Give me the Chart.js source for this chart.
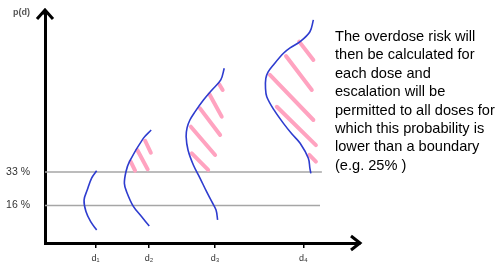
<!DOCTYPE html>
<html>
<head>
<meta charset="utf-8">
<title>Overdose risk</title>
<script src="https://cdn.jsdelivr.net/npm/chart.js"></script>
<style>
	html, body { margin: 0; padding: 0; background: #fff; }
	#wrap { position: relative; width: 500px; height: 269px; }
	#ylab { position: absolute; left: 13px; top: 8px; font: bold 9px/9px "Liberation Sans", Arial, sans-serif; color: #555; }
	#note { position: absolute; left: 335px; top: 27px; font: 14.6px/18.4px "Liberation Sans", Arial, sans-serif; color: #000; white-space: nowrap; }
</style>
</head>
<body>
<div id="wrap">
	<canvas id="mycanvas" width="500" height="269"></canvas>
	<div id="ylab">p(d)</div>
	<div id="note">The overdose risk will<br>then be calculated for<br>each dose and<br>escalation will be<br>permitted to all doses for<br>which this probability is<br>lower than a boundary<br>(e.g. 25% )</div>
</div>
<script>
// doses on the x axis
var doseLabels = ['d₁', 'd₂', 'd₃', 'd₄'];
var dosePos = [16, 33, 54, 82];

// boundaries (%) and how far they run along x
var boundaryLevels = [33, 16];
var boundaryEnd = [87.9, 87.3];

// posterior curves, [x, p(d)]
var curveD1 = [[16.4, 33.6], [14.8, 29.9], [13.4, 23.8], [12.4, 18.8], [13.0, 12.9], [14.5, 7.8], [16.4, 3.6]];
var curveD2 = [[33.7, 54.2], [31.2, 50.0], [26.8, 38.2], [25.7, 33.1], [25.2, 27.2], [25.9, 23.0], [28.0, 15.7], [30.7, 10.3], [33.1, 5.6]];
var curveD3 = [[56.9, 85.5], [55.8, 79.6], [53.0, 74.5], [50.3, 69.4], [47.6, 63.4], [46.0, 59.3], [45.1, 55.3], [44.8, 50.9], [45.4, 44.1], [47.1, 36.5], [49.2, 29.9], [51.3, 23.0], [53.0, 17.8], [54.3, 13.7], [54.8, 8.7]];
var curveD4 = [[85.2, 110.0], [84.1, 104.0], [81.0, 99.0], [77.8, 95.8], [75.7, 93.1], [72.5, 87.2], [70.8, 83.6], [70.1, 80.4], [70.0, 75.5], [70.4, 71.1], [72.7, 64.4], [75.7, 57.6], [78.4, 52.2], [81.0, 47.5], [83.6, 39.9], [84.1, 34.8], [84.4, 32.3]];

// hatching above the 33 % boundary, [x1, y1, x2, y2]
var hatchD2 = [[27.2, 38.2, 28.6, 33.6], [29.3, 44.1, 32.6, 34.3], [31.8, 48.8, 33.6, 42.7]];
var hatchD3 = [[55.3, 77.4, 56.4, 74.5], [52.2, 72.3, 56.1, 61.0], [49.2, 65.2, 55.6, 51.7], [46.3, 55.9, 54.0, 41.6], [46.6, 42.4, 51.8, 34.0]];
var hatchD4 = [[80.7, 99.0, 85.2, 89.7], [76.5, 91.7, 84.7, 74.5], [71.4, 82.1, 85.2, 59.3], [73.6, 66.0, 86.0, 46.6], [83.9, 41.6, 86.0, 38.2]];

var yTicks = [33, 16];

function toPoints(arr) {
	return arr.map(function(p) { return {x: p[0], y: p[1]}; });
}

var datasets = [];

[curveD1, curveD2, curveD3, curveD4].forEach(function(c) {
	datasets.push({
		data: toPoints(c),
		borderColor: '#2e3ccf',
		borderWidth: 1.6,
		pointRadius: 0,
		tension: 0.35,
		fill: false
	});
});

hatchD2.concat(hatchD3, hatchD4).forEach(function(h) {
	datasets.push({
		data: [{x: h[0], y: h[1]}, {x: h[2], y: h[3]}],
		borderColor: '#ffa3c0',
		borderWidth: 4,
		borderCapStyle: 'round',
		pointRadius: 0,
		fill: false
	});
});

boundaryLevels.forEach(function(v, i) {
	datasets.push({
		data: [{x: 0, y: v}, {x: boundaryEnd[i], y: v}],
		borderColor: '#a6a6a6',
		borderWidth: 1.5,
		pointRadius: 0,
		fill: false
	});
});

// arrow heads at the end of both axes
var arrowPlugin = {
	id: 'arrows',
	afterDraw: function(chart) {
		var ctx = chart.ctx;
		var a = chart.chartArea;
		ctx.save();
		ctx.strokeStyle = '#000';
		ctx.lineWidth = 3;
		ctx.beginPath();
		ctx.moveTo(a.left - 8, a.top + 7);
		ctx.lineTo(a.left, a.top - 2);
		ctx.lineTo(a.left + 8, a.top + 7);
		ctx.moveTo(a.left, a.top + 3);
		ctx.lineTo(a.left, a.top - 2);
		ctx.moveTo(a.right - 9, a.bottom - 7);
		ctx.lineTo(a.right, a.bottom);
		ctx.lineTo(a.right - 9, a.bottom + 7);
		ctx.stroke();
		ctx.restore();
	}
};

var ctx = document.getElementById('mycanvas');

var chart = new Chart(ctx, {
	type: 'line',
	data: { datasets: datasets },
	plugins: [arrowPlugin],
	options: {
		animation: false,
		responsive: false,
		layout: { padding: { top: 12, right: 140, left: 0, bottom: 0 } },
		plugins: {
			legend: { display: false },
			tooltip: { enabled: false }
		},
		scales: {
			x: {
				type: 'linear',
				min: 0,
				max: 100,
				afterBuildTicks: function(scale) {
					scale.ticks = dosePos.map(function(v) { return {value: v}; });
				},
				afterFit: function(scale) {
					scale.height = 26;
					scale.paddingLeft = 0;
					scale.paddingRight = 0;
				},
				grid: { drawOnChartArea: false, color: '#000', lineWidth: 1.5, tickLength: 5 },
				border: { color: '#000', width: 3 },
				ticks: {
					autoSkip: false,
					maxRotation: 0,
					padding: 5,
					color: '#333',
					font: { size: 9, family: '"Liberation Sans", "DejaVu Sans", sans-serif' },
					callback: function(v, i) { return doseLabels[i]; }
				}
			},
			y: {
				type: 'linear',
				min: -3,
				max: 114,
				afterBuildTicks: function(scale) {
					scale.ticks = yTicks.map(function(v) { return {value: v}; });
				},
				afterFit: function(scale) {
					scale.width = 45;
					scale.paddingTop = 0;
					scale.paddingBottom = 0;
				},
				grid: { display: false, drawTicks: false },
				border: { color: '#000', width: 3 },
				ticks: {
					padding: 15,
					color: '#333',
					font: { size: 10.5, family: '"Liberation Sans", sans-serif' },
					callback: function(v) { return v + ' %'; }
				}
			}
		}
	}
});
</script>
</body>
</html>
